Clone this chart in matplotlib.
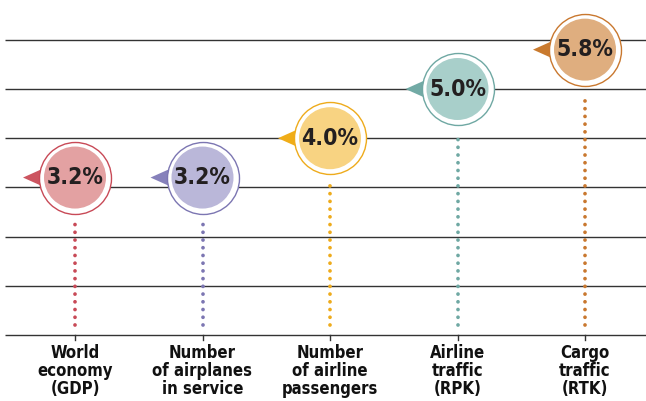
import matplotlib
matplotlib.use("Agg")
import matplotlib.pyplot as plt
from matplotlib.patches import Polygon

# data
categories = ["World\neconomy\n(GDP)", "Number\nof airplanes\nin service",
              "Number\nof airline\npassengers", "Airline\ntraffic\n(RPK)",
              "Cargo\ntraffic\n(RTK)"]
values = [3.2, 3.2, 4.0, 5.0, 5.8]
grid_levels = [0, 1, 2, 3, 4, 5, 6]

edge_colors = ["#c84a57", "#7c76b2", "#eeab1c", "#6fa8a3", "#c9782f"]
fill_colors = ["#e3a1a2", "#bab7d9", "#f8d382", "#a8cfca", "#dfae7f"]
arrow_colors = ["#cc5560", "#8681bb", "#f0ad18", "#72aaa5", "#c97a2e"]

W, H = 646, 401
fig = plt.figure(figsize=(W / 100, H / 100), dpi=100)
ax = fig.add_axes([0, 0, 1, 1])

# pixel layout: x = 75 + 127.5*i, y = 335 - 49.2*v
x0, dx = 75, 127.5
y0, dy = 335, 49.2
ax.set_xlim(-x0 / dx, (W - x0) / dx)
ax.set_ylim((y0 - H) / dy, y0 / dy)
ax.axis("off")

px = 1 / dx   # one pixel in x data units
py = 1 / dy   # one pixel in y data units

fonts = ["Liberation Sans Narrow", "DejaVu Sans"]

# horizontal rules
for g in grid_levels:
    ax.plot([-x0 / dx + 5 * px, (W - x0) / dx], [g, g], color="#333333",
            lw=1.0, zorder=1, solid_capstyle="butt")

for i, (lab, v) in enumerate(zip(categories, values)):
    # tick below the baseline
    ax.plot([i, i], [0, -5 * py], color="#333333", lw=1.0, zorder=1)

    # dotted stem
    ax.plot([i, i], [0.2, v - 44 * py], color=edge_colors[i], lw=2.7,
            linestyle=(0, (0.01, 2.05)), dash_capstyle="round", zorder=2)

    # left-pointing arrow
    tri = Polygon([[i - 52 * px, v], [i - 33 * px, v + 8.5 * py],
                   [i - 33 * px, v - 8.5 * py]], closed=True,
                  color=arrow_colors[i], zorder=3, lw=0)
    ax.add_patch(tri)

    # outer ring + inner disc
    ax.scatter([i], [v], s=(36 * 0.72 * 2) ** 2, facecolor="white",
               edgecolor=edge_colors[i], linewidths=1.0, zorder=4)
    ax.scatter([i], [v], s=(31 * 0.72 * 2) ** 2, facecolor=fill_colors[i],
               edgecolor="none", zorder=5)

    ax.text(i, v, f"{v:.1f}%", ha="center", va="center", fontsize=16.5,
            fontweight="bold", fontstretch="condensed", color="#231f20",
            family=fonts, zorder=6)

    ax.text(i, -9 * py, lab, ha="center", va="top", fontsize=12,
            fontweight="bold", fontstretch="condensed", color="#111111",
            family=fonts, linespacing=1.0, zorder=6)

fig.savefig("out.png", dpi=100)
